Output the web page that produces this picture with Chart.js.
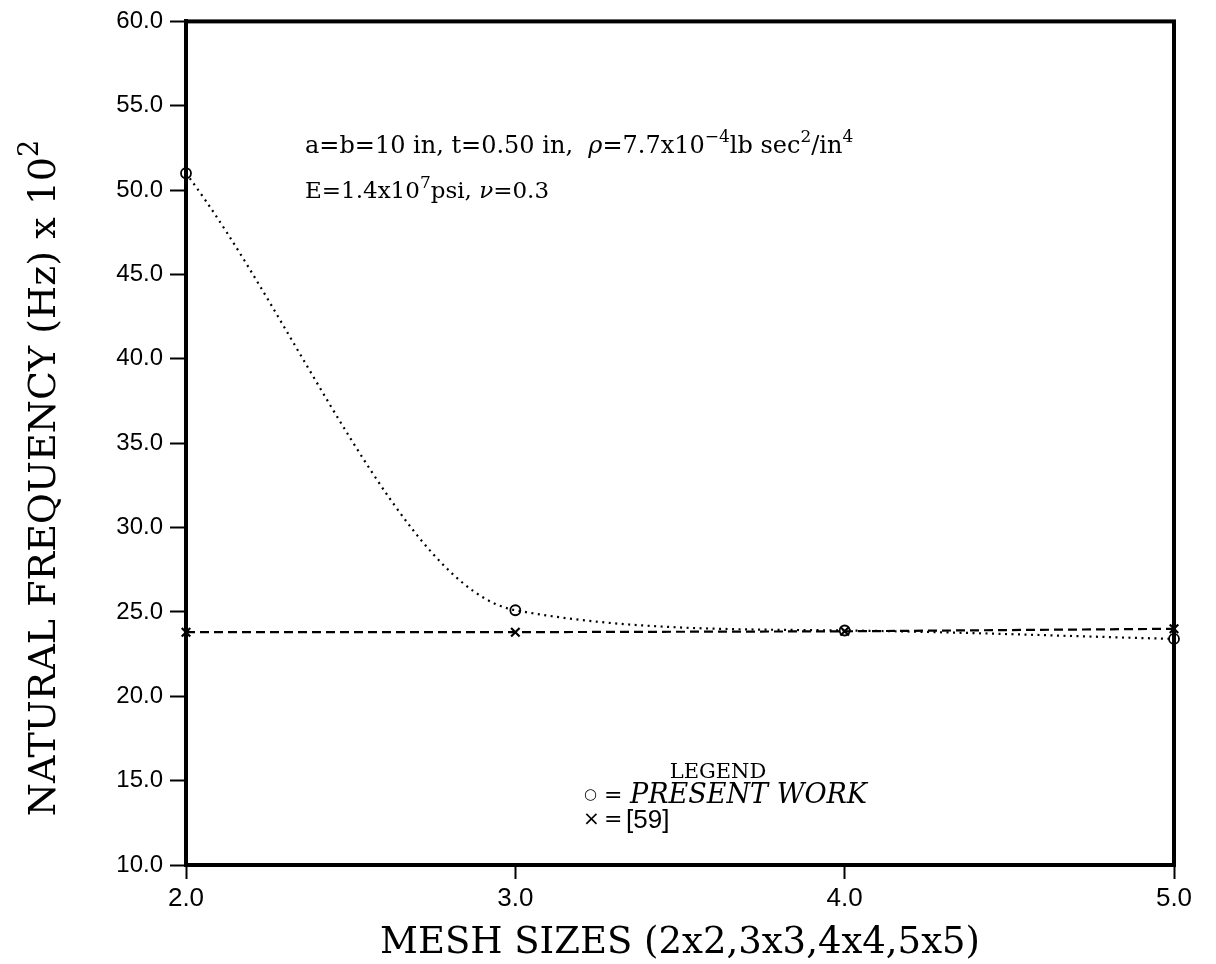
<!DOCTYPE html>
<html>
<head>
<meta charset="utf-8">
<script src="https://cdn.jsdelivr.net/npm/chart.js@4.4.0/dist/chart.umd.min.js"></script>
<style>
  html, body { margin: 0; padding: 0; background: #fff; }
  #wrap { width: 1216px; height: 964px; }
</style>
</head>
<body>
<div id="wrap"><canvas id="freqChart" width="1216" height="964"></canvas></div>
<script>
// mesh size (n for an n x n mesh) and first natural frequency (Hz x 100)
const meshSizes = [2.0, 3.0, 4.0, 5.0];
const presentWork = [51.0, 25.1, 23.9, 23.4];
const ref59 = [23.8, 23.8, 23.85, 24.0];
const xTickValues = [2.0, 3.0, 4.0, 5.0];
const yTickValues = [10, 15, 20, 25, 30, 35, 40, 45, 50, 55, 60];

const SERIF = '"DejaVu Serif", "Liberation Serif", serif';
const SANS = '"Liberation Sans", Arial, sans-serif';
const SYMBOL = '"DejaVu Sans", sans-serif';

// text made of runs, some raised as superscripts
function fontFor(r, size) {
  const s = r.sup ? Math.round(size * 0.72) : size;
  return (r.italic ? 'italic ' : '') + s + 'px ' + (r.family || SERIF);
}
function runWidth(ctx, runs, size) {
  let w = 0;
  runs.forEach(r => {
    ctx.font = fontFor(r, size);
    w += ctx.measureText(r.t).width;
  });
  return w;
}
function drawRuns(ctx, runs, x, y, size) {
  let cx = x;
  runs.forEach(r => {
    ctx.font = fontFor(r, size);
    ctx.fillText(r.t, cx, r.sup ? y - size * 0.45 : y);
    cx += ctx.measureText(r.t).width;
  });
}

const frame = {
  id: 'frame',
  afterDatasetsDraw(chart) {
    const { ctx, chartArea: a } = chart;
    ctx.save();
    ctx.strokeStyle = '#000';
    ctx.lineWidth = 4;
    ctx.strokeRect(a.left, a.top, a.right - a.left, a.bottom - a.top);
    ctx.restore();
  },
  afterDraw(chart) {
    const ctx = chart.ctx;
    ctx.save();
    ctx.fillStyle = '#000';
    ctx.textBaseline = 'alphabetic';

    // axis titles
    ctx.font = '37px ' + SERIF;
    ctx.textAlign = 'center';
    ctx.fillText('MESH SIZES (2x2,3x3,4x4,5x5)', 680, 953);

    const yTitle = [{ t: 'NATURAL FREQUENCY (Hz) x 10' }, { t: '2', sup: true }];
    ctx.textAlign = 'left';
    ctx.save();
    ctx.translate(55, 478);
    ctx.rotate(-Math.PI / 2);
    drawRuns(ctx, yTitle, -runWidth(ctx, yTitle, 38) / 2, 0, 38);
    ctx.restore();

    // plate properties
    drawRuns(ctx, [
      { t: 'a=b=10 in, t=0.50 in,  ' },
      { t: 'ρ', italic: true },
      { t: '=7.7x10' }, { t: '−4', sup: true },
      { t: 'lb sec' }, { t: '2', sup: true },
      { t: '/in' }, { t: '4', sup: true }
    ], 305, 153, 24);
    drawRuns(ctx, [
      { t: 'E=1.4x10' }, { t: '7', sup: true },
      { t: 'psi, ' }, { t: 'ν', italic: true }, { t: '=0.3' }
    ], 305, 198, 23);

    // legend
    ctx.font = '21px ' + SERIF;
    ctx.textAlign = 'center';
    ctx.fillText('LEGEND', 718, 778);
    ctx.textAlign = 'left';
    ctx.font = '15px ' + SYMBOL;
    ctx.fillText('○', 584, 799);
    ctx.font = '22px ' + SERIF;
    ctx.fillText('=', 604, 802);
    ctx.font = 'italic 27px ' + SERIF;
    ctx.fillText('PRESENT WORK', 630, 803);

    ctx.font = '20px ' + SYMBOL;
    ctx.fillText('×', 583, 825);
    ctx.font = '22px ' + SERIF;
    ctx.fillText('=', 604, 826);
    ctx.font = '26px ' + SANS;
    ctx.fillText('[59]', 626, 828);
    ctx.restore();
  }
};

const ctx = document.getElementById('freqChart');
const chart = new Chart(ctx, {
  type: 'line',
  data: {
    datasets: [
      {
        label: 'PRESENT WORK',
        data: meshSizes.map((m, i) => ({ x: m, y: presentWork[i] })),
        borderColor: '#000',
        borderWidth: 2.2,
        borderDash: [2, 4.5],
        cubicInterpolationMode: 'monotone',
        pointStyle: 'circle',
        pointRadius: 5,
        pointBorderWidth: 1.8,
        pointBorderColor: '#000',
        pointBackgroundColor: 'rgba(0,0,0,0)',
        clip: false
      },
      {
        label: '[59]',
        data: meshSizes.map((m, i) => ({ x: m, y: ref59[i] })),
        borderColor: '#000',
        borderWidth: 2.2,
        borderDash: [9, 5],
        tension: 0,
        pointStyle: 'crossRot',
        pointRadius: 6,
        pointBorderWidth: 2.2,
        pointBorderColor: '#000',
        clip: false
      }
    ]
  },
  options: {
    responsive: false,
    animation: false,
    devicePixelRatio: 1,
    layout: { padding: { left: 0, top: 20, right: 42, bottom: 0 } },
    plugins: {
      legend: { display: false },
      tooltip: { enabled: false }
    },
    scales: {
      x: {
        type: 'linear',
        min: 2,
        max: 5,
        afterBuildTicks: s => { s.ticks = xTickValues.map(v => ({ value: v })); },
        afterFit: s => { s.height = 99; },
        ticks: {
          color: '#000',
          padding: 4,
          font: { family: SANS, size: 26 },
          callback: v => v.toFixed(1)
        },
        grid: {
          drawOnChartArea: false,
          drawTicks: true,
          tickLength: 14,
          tickWidth: 2,
          tickColor: '#000'
        },
        border: { display: true, color: '#000', width: 4 }
      },
      y: {
        min: 10,
        max: 60,
        afterBuildTicks: s => { s.ticks = yTickValues.map(v => ({ value: v })); },
        afterFit: s => { s.width = 186; },
        ticks: {
          color: '#000',
          padding: 7,
          font: { family: SANS, size: 24 },
          callback: v => v.toFixed(1)
        },
        grid: {
          drawOnChartArea: false,
          drawTicks: true,
          tickLength: 16,
          tickWidth: 2,
          tickColor: '#000'
        },
        border: { display: true, color: '#000', width: 4 }
      }
    }
  },
  plugins: [frame]
});
</script>
</body>
</html>
